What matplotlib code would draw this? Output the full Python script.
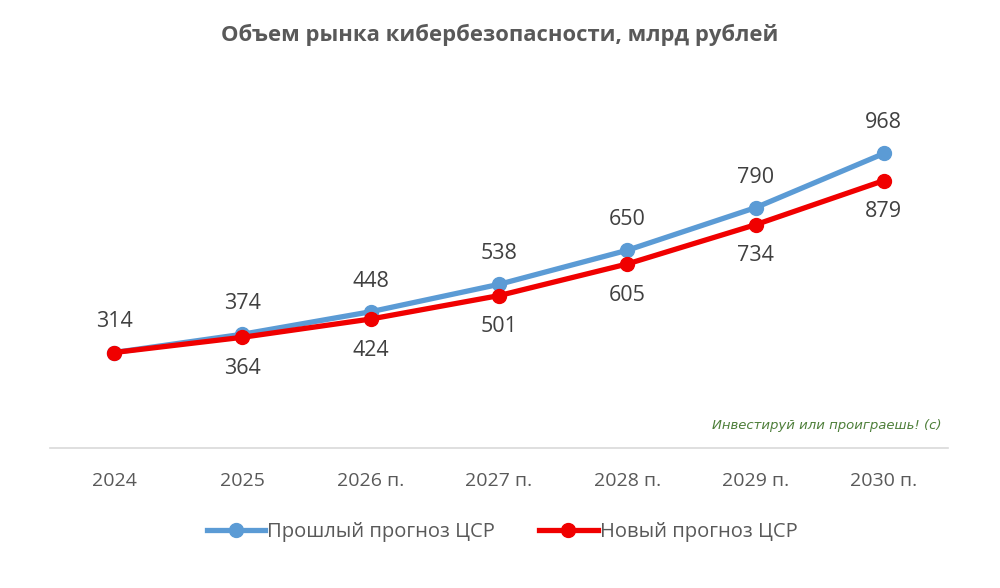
import matplotlib
matplotlib.use("Agg")
import matplotlib.pyplot as plt

categories = ["2024", "2025", "2026 п.", "2027 п.", "2028 п.", "2029 п.", "2030 п."]
old_forecast = [314, 374, 448, 538, 650, 790, 968]
new_forecast = [314, 364, 424, 501, 605, 734, 879]
title = "Объем рынка кибербезопасности, млрд рублей"
old_label = "Прошлый прогноз ЦСР"
new_label = "Новый прогноз ЦСР"
watermark = "Инвестируй или проиграешь! (с)"

plt.rcParams['font.family'] = ['Open Sans', 'DejaVu Sans']
gray = "#595959"
blue = "#5B9BD5"
red = "#F00000"

fig = plt.figure(figsize=(10, 5.88), dpi=100)
ax = fig.add_axes([0.05, 0.238, 0.898, 0.6055])
x = list(range(len(categories)))

ax.plot(x, old_forecast, color=blue, lw=3.8, marker="o", ms=10, label=old_label, zorder=3)
ax.plot(x, new_forecast, color=red, lw=3.8, marker="o", ms=10, label=new_label, zorder=4)

for i, (o, n) in enumerate(zip(old_forecast, new_forecast)):
    ax.annotate(str(o), (i, o), xytext=(0, 22), textcoords="offset points",
                ha="center", va="center", fontsize=15.5, color="#404040")
    if i == 0:
        continue
    ax.annotate(str(n), (i, n), xytext=(0, -22.5), textcoords="offset points",
                ha="center", va="center", fontsize=15.5, color="#404040")

ax.set_xlim(-0.5, len(categories) - 0.5)
ax.set_ylim(0, 1170)
ax.set_xticks(x)
ax.set_xticklabels(categories, fontsize=14, color=gray)
ax.tick_params(axis="x", length=0, pad=17)
ax.set_yticks([])
for s in ["top", "right", "left"]:
    ax.spines[s].set_visible(False)
ax.spines["bottom"].set_color("#D9D9D9")
ax.spines["bottom"].set_linewidth(1.2)

fig.text(0.5, 0.94, title, ha="center", va="center", fontsize=15.8, fontweight="bold", color=gray)
fig.text(0.827, 0.277, watermark, ha="center", va="center", fontsize=9.5,
         style="italic", color="#4E7F3A", family=["DejaVu Sans"])

leg = fig.legend(loc="center", bbox_to_anchor=(0.502, 0.095), ncol=2, frameon=False,
                 fontsize=14.5, handlelength=2.9, columnspacing=2.2, handletextpad=0.1)
for t in leg.get_texts():
    t.set_color(gray)

fig.savefig("out.png", dpi=100, facecolor="white")
